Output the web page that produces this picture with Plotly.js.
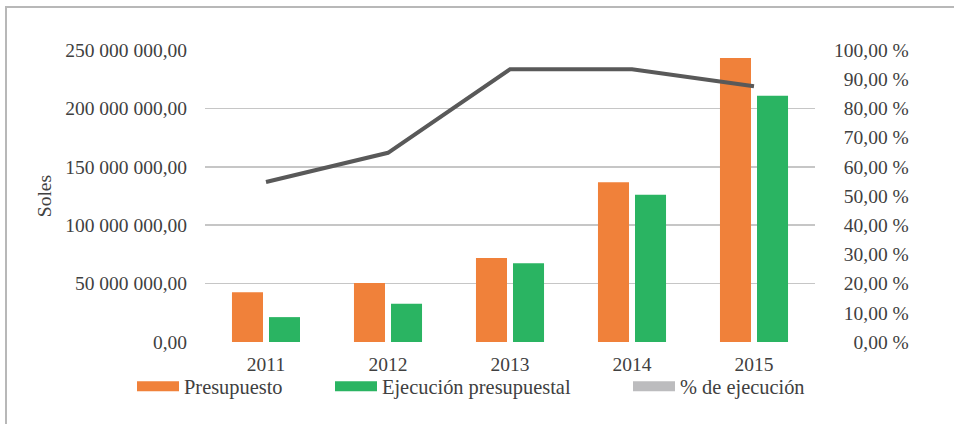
<!DOCTYPE html>
<html>
<head>
<meta charset="utf-8">
<script src="https://cdn.plot.ly/plotly-3.0.1.min.js"></script>
<style>
  html, body { margin: 0; padding: 0; background: #ffffff; }
  #chart { position: absolute; left: 0; top: 0; width: 954px; height: 424px; }
  #frame { position: absolute; left: 5px; top: 6px; width: 2000px; height: 2000px;
           border-left: 2px solid #b8b8b8; border-top: 2px solid #b8b8b8; pointer-events: none; }
</style>
</head>
<body>
<div id="chart"></div>
<div id="frame"></div>
<script>
// ---- data ----
const years = ['2011', '2012', '2013', '2014', '2015'];
const presupuesto = [42.6e6, 50.5e6, 71.9e6, 136.7e6, 243.2e6];
const ejecucion = [21.3e6, 32.8e6, 67.4e6, 126.0e6, 210.8e6];
const pctEjecucion = [0.548, 0.648, 0.934, 0.934, 0.876];

const leftTickVals = [0, 50e6, 100e6, 150e6, 200e6, 250e6];
const leftTickText = ['0,00', '50 000 000,00', '100 000 000,00', '150 000 000,00', '200 000 000,00', '250 000 000,00'];
const rightTickVals = [0, 0.1, 0.2, 0.3, 0.4, 0.5, 0.6, 0.7, 0.8, 0.9, 1.0];
const rightTickText = ['\u2007\u20070,00 %', '\u200710,00 %', '\u200720,00 %', '\u200730,00 %', '\u200740,00 %',
                       '\u200750,00 %', '\u200760,00 %', '\u200770,00 %', '\u200780,00 %', '\u200790,00 %', '100,00 %'];

const seriesNames = ['Presupuesto', 'Ejecución presupuestal', '% de ejecución'];
const colors = { orange: '#F0813A', green: '#2AB462', line: '#595959', legendGray: '#BCBCBE' };

const FONT = 'Liberation Serif, Times New Roman, serif';
const TXT = '#404040';

const traces = [
  { type: 'bar', x: years, y: presupuesto, name: seriesNames[0], marker: { color: colors.orange },
    showlegend: false, yaxis: 'y' },
  { type: 'bar', x: years, y: ejecucion, name: seriesNames[1], marker: { color: colors.green },
    showlegend: false, yaxis: 'y' },
  { type: 'scatter', mode: 'lines', x: years, y: pctEjecucion, name: seriesNames[2],
    line: { color: colors.line, width: 4 }, yaxis: 'y2', showlegend: false },
  // legend entries (no data)
  { type: 'scatter', mode: 'lines', x: [null], y: [null], name: seriesNames[0],
    line: { color: colors.orange, width: 10 }, legend: 'legend' },
  { type: 'scatter', mode: 'lines', x: [null], y: [null], name: seriesNames[1],
    line: { color: colors.green, width: 10 }, legend: 'legend2' },
  { type: 'scatter', mode: 'lines', x: [null], y: [null], name: seriesNames[2],
    line: { color: colors.legendGray, width: 10 }, legend: 'legend3' }
];

const legendBase = { orientation: 'h', yanchor: 'middle', y: -0.152, xanchor: 'left', itemwidth: 42,
  font: { family: FONT, size: 20.4, color: TXT }, bgcolor: 'rgba(0,0,0,0)', borderwidth: 0 };

const layout = {
  width: 954, height: 424,
  margin: { l: 205, r: 139, t: 50, b: 82 },
  paper_bgcolor: 'rgba(0,0,0,0)', plot_bgcolor: 'rgba(0,0,0,0)',
  font: { family: FONT, size: 19.5, color: TXT },
  barmode: 'group', bargap: 0.393, bargroupgap: 0.162,
  xaxis: { type: 'category', showgrid: false, zeroline: false, showline: false, ticks: '',
    ticklabelstandoff: 8, tickfont: { family: FONT, size: 19.5, color: TXT } },
  yaxis: { range: [0, 250e6], tickvals: leftTickVals, ticktext: leftTickText, showgrid: true,
    gridcolor: '#C6C6C6', gridwidth: 1.5, zeroline: false, showline: false, ticks: '',
    ticklabelstandoff: 17, tickfont: { family: FONT, size: 19.5, color: TXT },
    title: { text: 'Soles', font: { family: FONT, size: 19.5, color: TXT }, standoff: 8 } },
  yaxis2: { overlaying: 'y', side: 'right', range: [0, 1], tickvals: rightTickVals, ticktext: rightTickText,
    showgrid: false, zeroline: false, showline: false, ticks: '', ticklabelstandoff: 18,
    tickfont: { family: FONT, size: 19.5, color: TXT } },
  legend: Object.assign({}, legendBase, { x: (132 - 205) / 610 }),
  legend2: Object.assign({}, legendBase, { x: (330 - 205) / 610 }),
  legend3: Object.assign({}, legendBase, { x: (628 - 205) / 610 }),
  shapes: []
};

Plotly.newPlot('chart', traces, layout, { staticPlot: true, displayModeBar: false });
</script>
</body>
</html>
